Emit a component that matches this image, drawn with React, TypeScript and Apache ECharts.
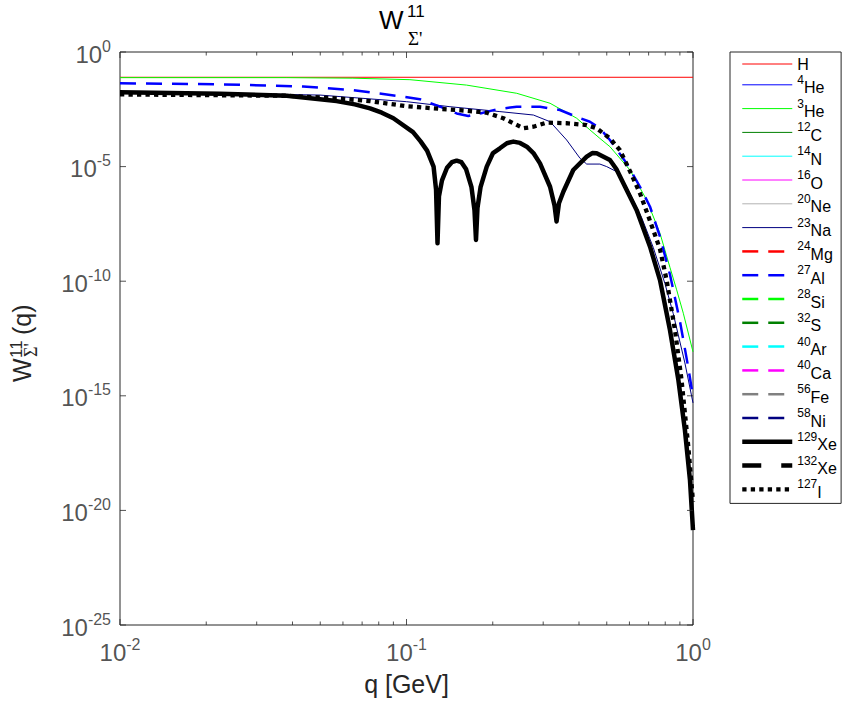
import React, { useEffect, useRef } from 'react';
import * as echarts from 'echarts';

const FONT = '"Liberation Sans", Arial, Helvetica, sans-serif';
const SERIF = '"Liberation Serif", "DejaVu Serif", serif';
const AXIS_COLOR = '#262626';

// Legend entries (superscript mass number + element)
const NUCLEUS_SUP = ['', '4', '3', '12', '14', '16', '20', '23', '24', '27', '28', '32', '40', '40', '56', '58', '129', '132', '127'];
const NUCLEUS_EL = ['H', 'He', 'He', 'C', 'N', 'O', 'Ne', 'Na', 'Mg', 'Al', 'Si', 'S', 'Ar', 'Ca', 'Fe', 'Ni', 'Xe', 'Xe', 'I'];
const COLORS = ['#ff0000', '#0000ff', '#00ff00', '#008000', '#00ffff', '#ff00ff', '#b3b3b3', '#000080',
  '#ff0000', '#0000ff', '#00ff00', '#008000', '#00ffff', '#ff00ff', '#808080', '#000080',
  '#000000', '#000000', '#000000'];

// Axis ranges and ticks
const X_MIN = 0.01;
const X_MAX = 1;
const Y_MIN = 1e-25;
const Y_MAX = 1;
const X_TICKS = [0.01, 0.1, 1];
const X_MINOR_TICKS = [0.02, 0.03, 0.04, 0.05, 0.06, 0.07, 0.08, 0.09, 0.2, 0.3, 0.4, 0.5, 0.6, 0.7, 0.8, 0.9];
const Y_TICKS = [1e-25, 1e-20, 1e-15, 1e-10, 1e-5, 1];

// H
const Q_H = [0.01, 1.0];
const W_H = [7.9e-2, 7.9e-2];

// 3He
const Q_HE3 = [0.01, 0.0382, 0.065, 0.1028, 0.162, 0.2425, 0.317, 0.3926, 0.4367, 0.4732, 0.5129, 0.6026, 0.689, 0.767, 0.831, 0.877, 0.925, 1.0];
const W_HE3 = [7.6e-2, 7.6e-2, 7.2e-2, 6.2e-2, 3.6e-2, 1.58e-2, 5.8e-3, 1.29e-3, 4.0e-4, 1.7e-4, 7.4e-5, 7.1e-6, 3.5e-7, 1.23e-8, 4.0e-10, 4.2e-11, 4.0e-12, 8.3e-14];

// 23Na
const Q_NA23 = [0.01, 0.0499, 0.1, 0.1418, 0.2118, 0.2773, 0.317, 0.3622, 0.4035, 0.4256, 0.4732, 0.4997, 0.5415, 0.587, 0.662, 0.727, 0.798, 0.853, 0.937, 1.0];
const W_NA23 = [1.9e-2, 1.32e-2, 6.8e-3, 4.1e-3, 2.51e-3, 1.78e-3, 9.1e-4, 1.45e-4, 2.29e-5, 1.29e-5, 1.29e-5, 1.0e-5, 6.0e-6, 1.32e-6, 5.9e-8, 2.9e-9, 7.9e-11, 3.9e-12, 2.7e-14, 4.9e-16];

// 27Al
const Q_AL27 = [0.01, 0.0223, 0.0436, 0.065, 0.0949, 0.1114, 0.131, 0.1497, 0.1643, 0.1807, 0.2065, 0.2425, 0.2924, 0.3432, 0.4035, 0.4367, 0.4732, 0.5129, 0.5869, 0.653, 0.708, 0.767, 0.831, 0.901, 0.963, 1.0];
const W_AL27 = [4.3e-2, 3.9e-2, 3.1e-2, 2.19e-2, 1.17e-2, 8.7e-3, 4.1e-3, 2.09e-3, 1.62e-3, 2.09e-3, 3.16e-3, 4.1e-3, 4.1e-3, 2.95e-3, 1.29e-3, 9.1e-4, 4.7e-4, 1.45e-4, 1.38e-5, 1.32e-6, 1.78e-7, 8.7e-9, 1.95e-10, 1.7e-12, 1.66e-14, 9.1e-16];

// 129Xe
const Q_XE129 = [0.01, 0.0223, 0.0382, 0.057, 0.066, 0.0746, 0.082, 0.09, 0.1054, 0.112, 0.118, 0.1243, 0.1268, 0.1283, 0.1298, 0.133, 0.1385, 0.1440, 0.1497, 0.1555, 0.1613, 0.1686, 0.1727, 0.1748, 0.1769, 0.1813, 0.1906, 0.2004, 0.2118, 0.224, 0.236, 0.249, 0.263, 0.2773, 0.2924, 0.317, 0.3286, 0.334, 0.3405, 0.3527, 0.382, 0.4256, 0.445, 0.461, 0.5129, 0.54, 0.564, 0.636, 0.708, 0.767, 0.831, 0.889, 0.937, 0.976, 1.0];
const W_XE129 = [1.74e-2, 1.51e-2, 1.23e-2, 7.2e-3, 5.2e-3, 3.47e-3, 2.24e-3, 1.29e-3, 3.2e-4, 1.26e-4, 5.0e-5, 1.0e-5, 1.0e-6, 4.5e-9, 5.0e-7, 2.5e-6, 8.9e-6, 1.55e-5, 1.82e-5, 1.55e-5, 7.9e-6, 1.26e-6, 1.26e-7, 6.3e-9, 1.58e-7, 1.26e-6, 1.0e-5, 3.9e-5, 6.3e-5, 1.05e-4, 1.23e-4, 1.08e-4, 7.4e-5, 3.9e-5, 1.38e-5, 1.32e-6, 2.0e-7, 4.0e-8, 2.5e-7, 8.0e-7, 7.1e-6, 2.7e-5, 3.9e-5, 3.8e-5, 1.95e-5, 7.9e-6, 2.6e-6, 1.26e-7, 3.2e-9, 1.12e-10, 7.4e-13, 4.9e-15, 3.2e-17, 2.1e-19, 1.38e-21];

// 127I
const Q_I127 = [0.01, 0.0382, 0.057, 0.0746, 0.0989, 0.124, 0.162, 0.1906, 0.2178, 0.256, 0.2773, 0.3084, 0.3622, 0.4256, 0.461, 0.5129, 0.5559, 0.608, 0.653, 0.70, 0.767, 0.809, 0.865, 0.912, 0.963, 1.0];
const W_I127 = [1.41e-2, 1.23e-2, 9.5e-3, 7.2e-3, 4.4e-3, 3.47e-3, 2.75e-3, 2.24e-3, 1.29e-3, 4.7e-4, 5.5e-4, 8.3e-4, 7.8e-4, 6.5e-4, 4.7e-4, 1.7e-4, 5.2e-5, 5.0e-6, 6.8e-7, 6.3e-8, 2.5e-9, 1.12e-10, 7.4e-13, 4.9e-15, 6.0e-18, 2.4e-20];

const SERIES_VALUES: { [name: string]: [number[], number[]] } = {
  'H': [Q_H, W_H],
  '3He': [Q_HE3, W_HE3],
  '23Na': [Q_NA23, W_NA23],
  '27Al': [Q_AL27, W_AL27],
  '129Xe': [Q_XE129, W_XE129],
  '127I': [Q_I127, W_I127],
};

const NAMES = NUCLEUS_SUP.map((s, i) => s + NUCLEUS_EL[i]);

function lineStyleFor(i: number) {
  if (i < 8) return { width: 1, type: 'solid' as any };
  if (i < 16) return { width: 2.5, type: [16, 10] as any };
  if (i === 16) return { width: 4.5, type: 'solid' as any };
  if (i === 17) return { width: 4.5, type: [19, 20] as any };
  return { width: 4.3, type: [4.3, 4.2] as any };
}

function zip(qs: number[], ws: number[]) {
  return qs.map((q, k) => [q, ws[k]]);
}

function expOf(v: number) {
  return Math.round(Math.log10(v));
}

function powLabel(v: number) {
  return '{b|10}{s|' + expOf(v) + '}{sp| }';
}

const tickLabelRich = {
  b: { fontSize: 24, fontFamily: FONT, color: AXIS_COLOR, lineHeight: 20, verticalAlign: 'bottom' },
  s: { fontSize: 16, fontFamily: FONT, color: AXIS_COLOR, lineHeight: 18, verticalAlign: 'top' },
  sp: { fontSize: 1, lineHeight: 28, width: 0 },
};

const legendRich = {
  n: { fontSize: 16, fontFamily: FONT, color: '#000', lineHeight: 16, verticalAlign: 'bottom' },
  s: { fontSize: 12, fontFamily: FONT, color: '#000', lineHeight: 15, verticalAlign: 'top' },
  sp: { fontSize: 1, lineHeight: 22, width: 0 },
};

function txt(text: string, x: number, y: number, size: number, color: string, family = FONT) {
  return {
    type: 'text', x, y,
    style: {
      text, fontSize: size, fontFamily: family, fill: color,
      textAlign: 'left', textVerticalAlign: 'middle', align: 'left', verticalAlign: 'middle',
    },
  };
}

function tickSeries(name: string, data: number[][], size: number[], offset: number[], label?: any) {
  return {
    name, type: 'scatter', xAxisIndex: 0, yAxisIndex: 0,
    silent: true, clip: false, legendHoverLink: false,
    symbol: 'rect', symbolSize: size, symbolOffset: offset,
    itemStyle: { color: AXIS_COLOR },
    emphasis: { disabled: true },
    data,
    label: label || { show: false },
    z: 40,
  };
}

function buildOption() {
  const series: any[] = NAMES.map((name, i) => {
    const vals = SERIES_VALUES[name];
    const ls = lineStyleFor(i);
    return {
      name, type: 'line', xAxisIndex: 0, yAxisIndex: 0,
      symbol: 'none', showSymbol: false, smooth: false,
      data: vals ? zip(vals[0], vals[1]) : [],
      lineStyle: { color: COLORS[i], width: ls.width, type: ls.type, cap: 'butt', join: 'round' },
      itemStyle: { color: COLORS[i] },
      z: 2 + i,
    };
  });

  // axis ticks and tick labels, placed through the log scales
  series.push(tickSeries('yTicksLeft', Y_TICKS.map((v) => [X_MIN, v]), [6, 1], [3, 0], {
    show: true, position: 'left', distance: 9,
    formatter: (p: any) => powLabel(p.value[1]), rich: tickLabelRich,
  }));
  series.push(tickSeries('yTicksRight', Y_TICKS.map((v) => [X_MAX, v]), [6, 1], [-3, 0]));
  series.push(tickSeries('xTicksBottom', X_TICKS.map((q) => [q, Y_MIN]), [1, 6], [0, -3], {
    show: true, position: 'bottom', distance: 11,
    formatter: (p: any) => powLabel(p.value[0]), rich: tickLabelRich,
  }));
  series.push(tickSeries('xTicksTop', X_TICKS.map((q) => [q, Y_MAX]), [1, 6], [0, 3]));
  series.push(tickSeries('xMinorBottom', X_MINOR_TICKS.map((q) => [q, Y_MIN]), [1, 3.5], [0, -1.75]));
  series.push(tickSeries('xMinorTop', X_MINOR_TICKS.map((q) => [q, Y_MAX]), [1, 3.5], [0, 1.75]));

  const legendData = NAMES.map((name, i) => {
    const ls = lineStyleFor(i);
    return {
      name,
      itemStyle: { opacity: 0 },
      lineStyle: { color: COLORS[i], width: ls.width, type: ls.type, cap: 'butt' },
    };
  });

  return {
    animation: false,
    backgroundColor: '#ffffff',
    grid: {
      left: 120, right: 150, top: 52, bottom: 77, containLabel: false,
      show: true, borderColor: AXIS_COLOR, borderWidth: 1, backgroundColor: '#ffffff',
    },
    xAxis: {
      type: 'log', logBase: 10, min: X_MIN, max: X_MAX,
      name: 'q [GeV]', nameLocation: 'middle', nameGap: 46,
      nameTextStyle: { fontSize: 25, fontFamily: FONT, color: AXIS_COLOR },
      axisLine: { show: false }, axisTick: { show: false }, axisLabel: { show: false },
      splitLine: { show: false }, minorTick: { show: false },
    },
    yAxis: {
      type: 'log', logBase: 10, min: Y_MIN, max: Y_MAX,
      axisLine: { show: false }, axisTick: { show: false }, axisLabel: { show: false },
      splitLine: { show: false }, minorTick: { show: false },
    },
    legend: {
      orient: 'vertical', left: 730, top: 52,
      padding: [4, 4, 3, 10],
      itemWidth: 50, itemHeight: 14, itemGap: 1.8,
      borderColor: AXIS_COLOR, borderWidth: 1, backgroundColor: '#ffffff',
      selectedMode: false,
      data: legendData,
      formatter: (name: string) => {
        const i = NAMES.indexOf(name);
        const sup = NUCLEUS_SUP[i];
        return sup ? '{s|' + sup + '}{n|' + NUCLEUS_EL[i] + '}{sp| }' : '{n|' + NUCLEUS_EL[i] + '}';
      },
      textStyle: { fontFamily: FONT, fontSize: 16, color: '#000', rich: legendRich },
    },
    graphic: [
      txt('W', 379, 20, 26, '#000'),
      txt('11', 407, 11, 17, '#000'),
      txt("Σ'", 408, 38, 19, '#000', SERIF),
      {
        type: 'group', x: 22, y: 382, rotation: Math.PI / 2,
        children: [
          txt('W', 0, 0, 25, AXIS_COLOR),
          txt('11', 24, -6, 17, AXIS_COLOR),
          txt("Σ'", 25, 9, 18, AXIS_COLOR, SERIF),
          txt('(q)', 47, 0, 25, AXIS_COLOR),
        ],
      },
    ],
    series,
  };
}

export default function App() {
  const ref = useRef<HTMLDivElement>(null);
  useEffect(() => {
    if (!ref.current) return;
    const chart = echarts.init(ref.current, undefined, { renderer: 'svg' });
    chart.setOption(buildOption() as any);
    return () => chart.dispose();
  }, []);
  return (
    <div
      ref={ref}
      style={{ position: 'fixed', left: 0, top: 0, width: 843, height: 702, background: '#ffffff' }}
    />
  );
}
